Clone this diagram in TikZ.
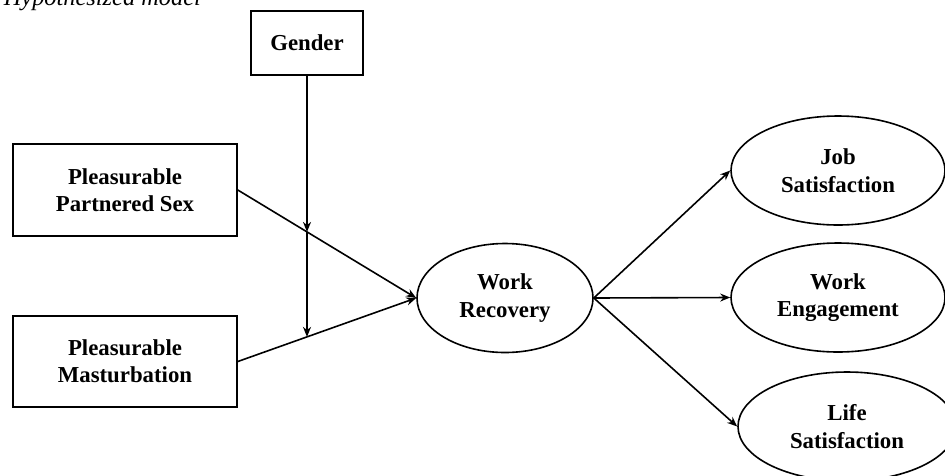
\documentclass[tikz,border=0pt]{standalone}
\usepackage{fontspec}
\setmainfont{Liberation Serif}
\usetikzlibrary{arrows.meta, shapes.geometric, positioning, calc}

\begin{document}
\begin{tikzpicture}[x=1pt, y=-1pt, >={Stealth[length=10pt,width=8pt]},
    line width=1.6pt,
    varbox/.style={draw, rectangle, align=center, inner sep=0pt,
      font=\bfseries\fontsize{22.8}{27.4}\selectfont},
    latent/.style={draw, ellipse, align=center, inner sep=0pt,
      minimum width=#1, minimum height=109pt,
      font=\bfseries\fontsize{22.8}{27.4}\selectfont},
    latent/.default=176pt]
      \useasboundingbox (0,0) rectangle (945,475);

      % caption, cut off at the top
      \node[anchor=base west, inner sep=0pt, font=\itshape\fontsize{24.4}{29}\selectfont] (caption) at (3,5) {Hypothesized model};

      % predictors and moderator
      \node[varbox, minimum width=112pt, minimum height=64pt] (gender) at (307,43) {Gender};
      \node[varbox, minimum width=224pt, minimum height=92pt] (pps) at (125,190) {Pleasurable\\Partnered Sex};
      \node[varbox, minimum width=224pt, minimum height=91pt] (pm) at (125,361.5) {Pleasurable\\Masturbation};

      % mediator and outcomes
      \node[latent] (wr) at (505,298) {Work\\Recovery};
      \node[latent=214pt] (js) at (838,170.5) {Job\\Satisfaction};
      \node[latent=214pt] (we) at (838,297.5) {Work\\Engagement};
      \node[latent=218pt] (ls) at (847,426.5) {Life\\Satisfaction};

      \draw[->] (pps.east) -- (wr.west);
      \draw[->] (pm.east) -- (wr.west);

      % moderation line
      \coordinate (gfoot) at (gender.south |- pm.south);
      \coordinate (cross1) at (intersection of pps.east--wr.west and gender.south--gfoot);
      \coordinate (cross2) at (intersection of pm.east--wr.west and gender.south--gfoot);
      \draw[->] (gender.south) -- (cross1);
      \draw[->] (cross1) -- (cross2);

      \draw[->] (wr.east) -- (js.west);
      \draw[->] (wr.east) -- (we.west);
      \draw[->] (wr.east) -- (ls.west);
    \end{tikzpicture}
\end{document}
